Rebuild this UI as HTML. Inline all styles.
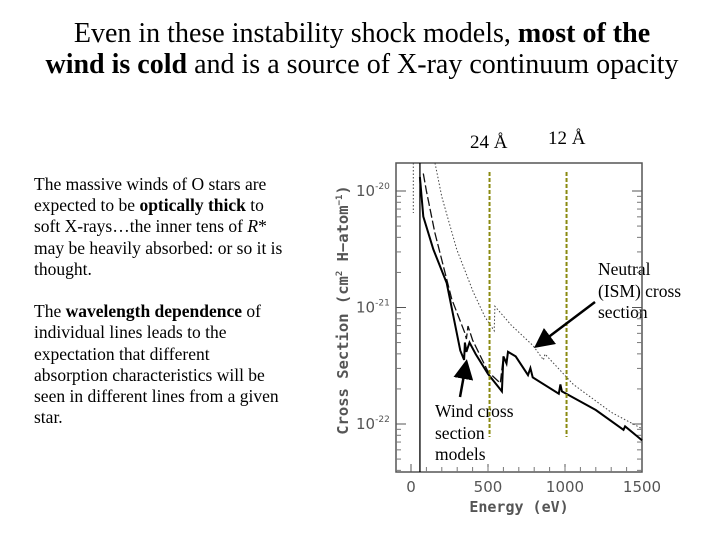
<!DOCTYPE html>
<html><head><meta charset="utf-8"><style>
body{margin:0;width:720px;height:540px;background:#fff;overflow:hidden;position:relative;font-family:"Liberation Serif",serif;}
.t{position:absolute;white-space:nowrap;color:#000;}
#title{left:0;width:724px;top:18px;text-align:center;font-size:28px;line-height:31px;}
#para{left:34px;top:174px;font-size:17.5px;line-height:21.2px;}
</style></head><body>
<div class="t" id="title">Even in these instability shock models, <b>most of the</b><br><b>wind is cold</b> and is a source of X-ray continuum opacity</div>
<div class="t" id="para">
<div>The massive winds of O stars are<br>expected to be <b>optically thick</b> to<br>soft X-rays…the inner tens of <i>R</i>*<br>may be heavily absorbed: or so it is<br>thought.</div>
<div style="height:21.2px"></div>
<div>The <b>wavelength dependence</b> of<br>individual lines leads to the<br>expectation that different<br>absorption characteristics will be<br>seen in different lines from a given<br>star.</div>
</div>
<div class="t" style="left:470px;top:132px;font-size:19px">24 Å</div>
<div class="t" style="left:548px;top:128px;font-size:19px">12 Å</div>
<div class="t" style="left:598px;top:259px;font-size:17.5px;line-height:21.5px">Neutral<br>(ISM) cross<br>section</div>
<div class="t" style="left:435px;top:401px;font-size:17.5px;line-height:21.5px">Wind cross<br>section<br>models</div>
<svg id="chart" width="720" height="540" style="position:absolute;left:0;top:0"></svg>
<script>
const xTicks=[0,500,1000,1500];
const yTicks=[-20,-21,-22];
const solidE=[58,80,145,232,320,345,350,360,380,420,500,590,600,620,630,680,760,775,790,960,970,980,1200,1380,1390,1500];
const solidL=[-19.88,-20.22,-20.5,-20.79,-21.37,-21.45,-21.3,-21.38,-21.3,-21.4,-21.57,-21.72,-21.42,-21.48,-21.38,-21.42,-21.58,-21.52,-21.6,-21.74,-21.66,-21.72,-21.88,-22.05,-22.02,-22.14];
const dashE=[80,100,155,265,350,360,370,400,500,580,600];
const dashL=[-19.85,-20.0,-20.36,-20.93,-21.22,-21.27,-21.16,-21.28,-21.55,-21.65,-21.42];
const dotE=[156,200,297,405,480,540,545,650,794,860,870,1054,1300,1500];
const dotL=[-19.76,-20.05,-20.5,-20.87,-21.08,-21.2,-20.99,-21.15,-21.33,-21.45,-21.4,-21.66,-21.9,-22.04];
const markerE=[510,1010];
const NS='http://www.w3.org/2000/svg';
const svg=document.getElementById('chart');
const X=e=>411+e*0.154;
const Y=l=>191+(-20-l)*116.5;
function mk(t,a){const el=document.createElementNS(NS,t);for(const k in a)el.setAttribute(k,a[k]);svg.appendChild(el);return el;}
const frame=mk('rect',{x:396,y:163,width:246,height:309,fill:'none',stroke:'#555','stroke-width':1.5});


xTicks.forEach(v=>{
 const x=X(v);
 const tk=mk('line',{x1:x,y1:472,x2:x,y2:464,stroke:'#555'});
 
 
 const t=mk('text',{x:x,y:492,'text-anchor':'middle','font-size':15,'font-family':'DejaVu Sans, sans-serif',fill:'#555'});
 t.textContent=v;
 
 
});
for(let e=100;e<1500;e+=100){const x=X(e);const m=mk('line',{x1:x,y1:472,x2:x,y2:467,stroke:'#777'});}
yTicks.forEach(v=>{
 const y=Y(v);
 const tk=mk('line',{x1:396,y1:y,x2:406,y2:y,stroke:'#555'});
 
 
 const tk2=mk('line',{x1:642,y1:y,x2:632,y2:y,stroke:'#555'});
 
 
 const t=mk('text',{x:356,y:y+5,'font-size':15,'font-family':'DejaVu Sans, sans-serif',fill:'#555'});
 t.innerHTML='10<tspan dy="-7" font-size="9">'+v+'</tspan>';
 
 
 for(let k=2;k<10;k++){const yy=Y(v+Math.log10(k)-1);if(yy<163||yy>472)continue;const m=mk('line',{x1:396,y1:yy,x2:401,y2:yy,stroke:'#777'});const m2=mk('line',{x1:642,y1:yy,x2:637,y2:yy,stroke:'#777'});}
});
const yl=mk('text',{x:0,y:0,transform:'translate(348,310) rotate(-90)','text-anchor':'middle','font-size':15.5,'font-family':'DejaVu Sans Mono, monospace',fill:'#555','font-weight':'bold'});
yl.innerHTML='Cross Section (cm<tspan dy="-6" font-size="9">2</tspan><tspan dy="6"> H−atom</tspan><tspan dy="-6" font-size="9">−1</tspan><tspan dy="6">)</tspan>';


const xl=mk('text',{x:519,y:512,'text-anchor':'middle','font-size':15,'font-family':'DejaVu Sans Mono, monospace',fill:'#555','font-weight':'bold'});
xl.textContent='Energy (eV)';


function pts(E,L){return E.map((e,i)=>X(e).toFixed(1)+','+Y(L[i]).toFixed(1)).join(' ');}
const edge=mk('line',{x1:X(solidE[0]),y1:163,x2:X(solidE[0]),y2:472,stroke:'#000','stroke-width':1.3});


const ve=mk('line',{x1:X(15),y1:163,x2:X(15),y2:213,stroke:'#444','stroke-dasharray':'1.5,2'});


const dot=mk('polyline',{points:pts(dotE,dotL),fill:'none',stroke:'#444','stroke-width':1,'stroke-dasharray':'1.5,2'});


const dash=mk('polyline',{points:pts(dashE,dashL),fill:'none',stroke:'#111','stroke-width':1.3,'stroke-dasharray':'9,3'});


const sol=mk('polyline',{points:pts(solidE,solidL),fill:'none',stroke:'#000','stroke-width':2});


markerE.forEach(e=>{
 const l=mk('line',{x1:X(e),y1:172,x2:X(e),y2:437,stroke:'#8a8a10','stroke-width':2,'stroke-dasharray':'4,2'});
 
 
});
const defs=mk('defs',{});
defs.innerHTML='<marker id="ah" markerWidth="8" markerHeight="8" refX="6" refY="4" orient="auto"><path d="M0,0 L8,4 L0,8 z" fill="#000"/></marker>';
const a1=mk('line',{x1:460,y1:397,x2:466,y2:364,stroke:'#000','stroke-width':2.5,'marker-end':'url(#ah)'});


const a2=mk('line',{x1:595,y1:302,x2:538,y2:345,stroke:'#000','stroke-width':2.5,'marker-end':'url(#ah)'});


</script>
</body></html>
